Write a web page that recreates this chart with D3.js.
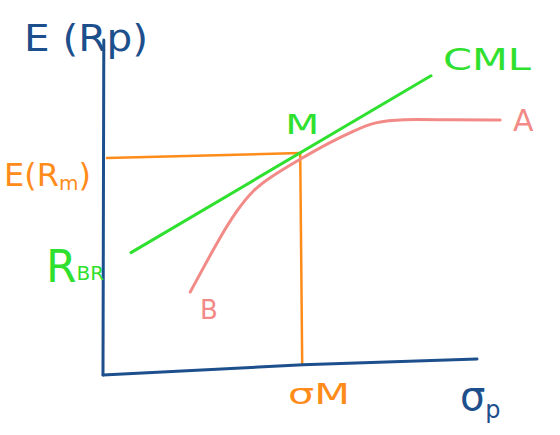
<!DOCTYPE html>
<html><head><meta charset="utf-8">
<script src="https://cdn.jsdelivr.net/npm/d3@7"></script>
<style>body{margin:0;background:#fff;} svg{display:block;}</style>
</head><body>
<svg id="c" width="560" height="435"></svg>
<script>
// Data (chart units: x = risk σ, y = expected return)
const axisX = [0, 5, 9.35];          // x-axis path (hand-drawn, slightly rising)
const axisY = [0, 0.3, 0.47];
const yAxisTop = 9.85;
const cmlX = [0.7, 8.2];
const cmlY = [3.6, 8.8];
const frontierX = [2.18, 2.48, 2.93, 3.35, 3.75, 4.18, 4.88, 5.68, 6.3, 6.8, 7.43, 8.68, 9.93];
const frontierY = [2.44, 3.09, 4.06, 4.85, 5.44, 5.82, 6.32, 6.85, 7.2, 7.44, 7.53, 7.5, 7.5];
const marketX = 4.93, marketY = 6.53;
const labels = ["E (Rp)", "CML", "M", "A", "B", "E(Rm)", "RBR", "σM", "σp"];

const blue = "#1d4f8c", green = "#2fe02f", orange = "#ff8c1a", salmon = "#f28b87";
const svg = d3.select("#c");
const x = d3.scaleLinear().domain([0, 10]).range([103, 503]);
const y = d3.scaleLinear().domain([0, 10]).range([375, 35]);
const lineFor = c => d3.line().x(d => x(d[0])).y(d => y(d[1])).curve(c);

function path(xs, ys, color, w, c) {
  svg.append("path").attr("d", lineFor(c || d3.curveLinear)(xs.map((v, i) => [v, ys[i]])))
    .attr("fill", "none").attr("stroke", color).attr("stroke-width", w)
    .attr("stroke-linecap", "round").attr("stroke-linejoin", "round");
}

// guide lines to M
path([0.1, marketX], [6.38, marketY], orange, 2.5);
path([marketX, marketX + 0.05], [marketY, 0.3], orange, 2.5);
// efficient frontier
path(frontierX, frontierY, salmon, 3, d3.curveBasis);
// CML
path(cmlX, cmlY, green, 3);
// axes
path([0, 0.02], [0, yAxisTop], blue, 3);
path(axisX, axisY, blue, 3);

const font = "'DejaVu Sans', sans-serif";
function txt(t, px, py, color, size, extra) {
  const e = svg.append("text").attr("x", px).attr("y", py).attr("fill", color)
    .attr("font-family", font).attr("font-size", size).text(t);
  if (extra) extra(e);
  return e;
}
// y-axis title E (Rp)
txt(labels[0], 24, 51, blue, 38, e => e.attr("textLength", 124).attr("lengthAdjust", "spacingAndGlyphs"));
// CML
txt(labels[1], 443, 70, green, 30, e => e.attr("textLength", 88).attr("lengthAdjust", "spacingAndGlyphs"));
// M
txt(labels[2], x(marketX) - 15, 134, green, 26, e => e.attr("textLength", 34).attr("lengthAdjust", "spacingAndGlyphs"));
// A
txt(labels[3], 513, 131, salmon, 30);
// B
txt(labels[4], 200, 319, salmon, 26);
// E(Rm)
const t1 = svg.append("text").attr("x", 4).attr("y", 186).attr("fill", orange)
  .attr("font-family", font).attr("font-size", 32);
t1.append("tspan").text("E(R");
t1.append("tspan").attr("font-size", 20).attr("dy", 4).text("m");
t1.append("tspan").attr("dy", -4).text(")");
// R_BR
const t2 = svg.append("text").attr("x", 46).attr("y", 282).attr("fill", green)
  .attr("font-family", font).attr("font-size", 44);
t2.append("tspan").text("R");
t2.append("tspan").attr("font-size", 20).attr("dy", -2).text(labels[6].slice(1));
// σM
txt(labels[7], 288, 404, orange, 28, e => e.attr("textLength", 62).attr("lengthAdjust", "spacingAndGlyphs"));
// σp
const t3 = svg.append("text").attr("x", 460).attr("y", 410).attr("fill", blue)
  .attr("font-family", font).attr("font-size", 40);
t3.append("tspan").text("σ");
t3.append("tspan").attr("font-size", 24).attr("dy", 8).text("p");
</script>
</body></html>
